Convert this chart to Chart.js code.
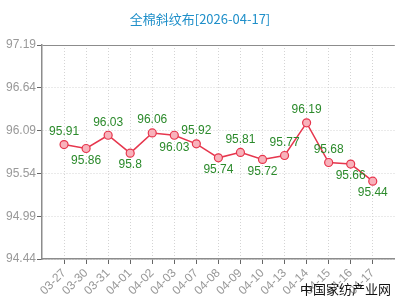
<!DOCTYPE html>
<html>
<head>
<meta charset="utf-8">
<script src="https://cdn.jsdelivr.net/npm/chart.js@4/dist/chart.umd.min.js"></script>
<style>
  html, body { margin: 0; padding: 0; background: #fff; }
  #c { display: block; }
</style>
</head>
<body>
<canvas id="c" width="400" height="300"></canvas>
<script>
// données
const dates = ['03-27', '03-30', '03-31', '04-01', '04-02', '04-03', '04-07', '04-08', '04-09', '04-10', '04-13', '04-14', '04-15', '04-16', '04-17'];
const prices = [95.91, 95.86, 96.03, 95.8, 96.06, 96.03, 95.92, 95.74, 95.81, 95.72, 95.77, 96.19, 95.68, 95.66, 95.44];
const yTicks = [94.44, 94.99, 95.54, 96.09, 96.64, 97.19];
const titleText = '全棉斜纹布[2026-04-17]';
const watermark = '中国家纺产业网';

// étiquette au-dessus ou en dessous du point
const labelSide = ['up', 'down', 'up', 'down', 'up', 'down', 'up', 'down', 'up', 'down', 'up', 'up', 'up', 'down', 'down'];

const gridColor = '#d4d4d4';
const axisColor = '#8c8c8c';
const tickFont = { family: 'Liberation Sans, Arial, sans-serif', size: 12 };

// titre, valeurs et filigrane
const textPlugin = {
  id: 'texts',
  afterDatasetsDraw(chart) {
    const ctx = chart.ctx;
    const meta = chart.getDatasetMeta(0);
    ctx.save();
    ctx.font = '12px "Liberation Sans", Arial, sans-serif';
    ctx.fillStyle = '#2b8a2b';
    ctx.textAlign = 'center';
    ctx.textBaseline = 'middle';
    meta.data.forEach((pt, i) => {
      const dy = labelSide[i] === 'up' ? -13 : 12;
      ctx.fillText(String(prices[i]), pt.x, pt.y + dy);
    });
    ctx.restore();
  },
  afterDraw(chart) {
    const ctx = chart.ctx;
    ctx.save();
    ctx.font = '13px "Noto Sans CJK SC", sans-serif';
    ctx.fillStyle = '#1f8fc9';
    ctx.textAlign = 'center';
    ctx.textBaseline = 'middle';
    ctx.fillText(titleText, 200, 19);

    ctx.font = '13px "Noto Sans CJK SC", sans-serif';
    ctx.fillStyle = '#111';
    ctx.textAlign = 'right';
    ctx.textBaseline = 'alphabetic';
    ctx.fillText(watermark, 391, 294);
    ctx.restore();
  }
};

new Chart(document.getElementById('c'), {
  type: 'line',
  data: {
    datasets: [{
      data: prices.map((v, i) => ({ x: i, y: v })),
      borderColor: '#e6364d',
      borderWidth: 1.5,
      backgroundColor: '#f8b2bb',
      pointBackgroundColor: '#f8b2bb',
      pointBorderColor: '#e6364d',
      pointBorderWidth: 1.2,
      pointRadius: 4,
      tension: 0,
      fill: false
    }]
  },
  options: {
    responsive: false,
    devicePixelRatio: 1,
    animation: false,
    layout: { padding: { top: 45, right: 2, left: 0, bottom: 0 } },
    plugins: {
      legend: { display: false },
      tooltip: { enabled: false },
      title: { display: false }
    },
    scales: {
      x: {
        type: 'linear',
        min: -1,
        max: dates.length,
        afterBuildTicks: s => { s.ticks = dates.map((d, i) => ({ value: i })); },
        afterFit: s => { s.height = 41; },
        ticks: {
          autoSkip: false,
          minRotation: 45,
          maxRotation: 45,
          padding: 2,
          color: '#999',
          font: tickFont,
          callback: v => dates[v] ?? ''
        },
        grid: {
          color: gridColor,
          tickColor: '#666',
          tickLength: 5,
          tickBorderDash: []
        },
        border: { color: axisColor, width: 1.5, dash: [1, 2] }
      },
      y: {
        min: yTicks[0],
        max: yTicks[yTicks.length - 1],
        afterBuildTicks: s => { s.ticks = yTicks.map(v => ({ value: v })); },
        afterFit: s => { s.width = 42; },
        ticks: {
          padding: 1,
          color: '#999',
          font: tickFont,
          callback: v => v.toFixed(2)
        },
        grid: {
          color: c => c.index === yTicks.length - 1 ? axisColor : gridColor,
          tickColor: '#666',
          tickLength: 5,
          tickBorderDash: []
        },
        border: {
          color: axisColor,
          width: 1.5,
          dash: c => c.index === yTicks.length - 1 ? [] : [1, 2]
        }
      }
    }
  },
  plugins: [textPlugin]
});
</script>
</body>
</html>
